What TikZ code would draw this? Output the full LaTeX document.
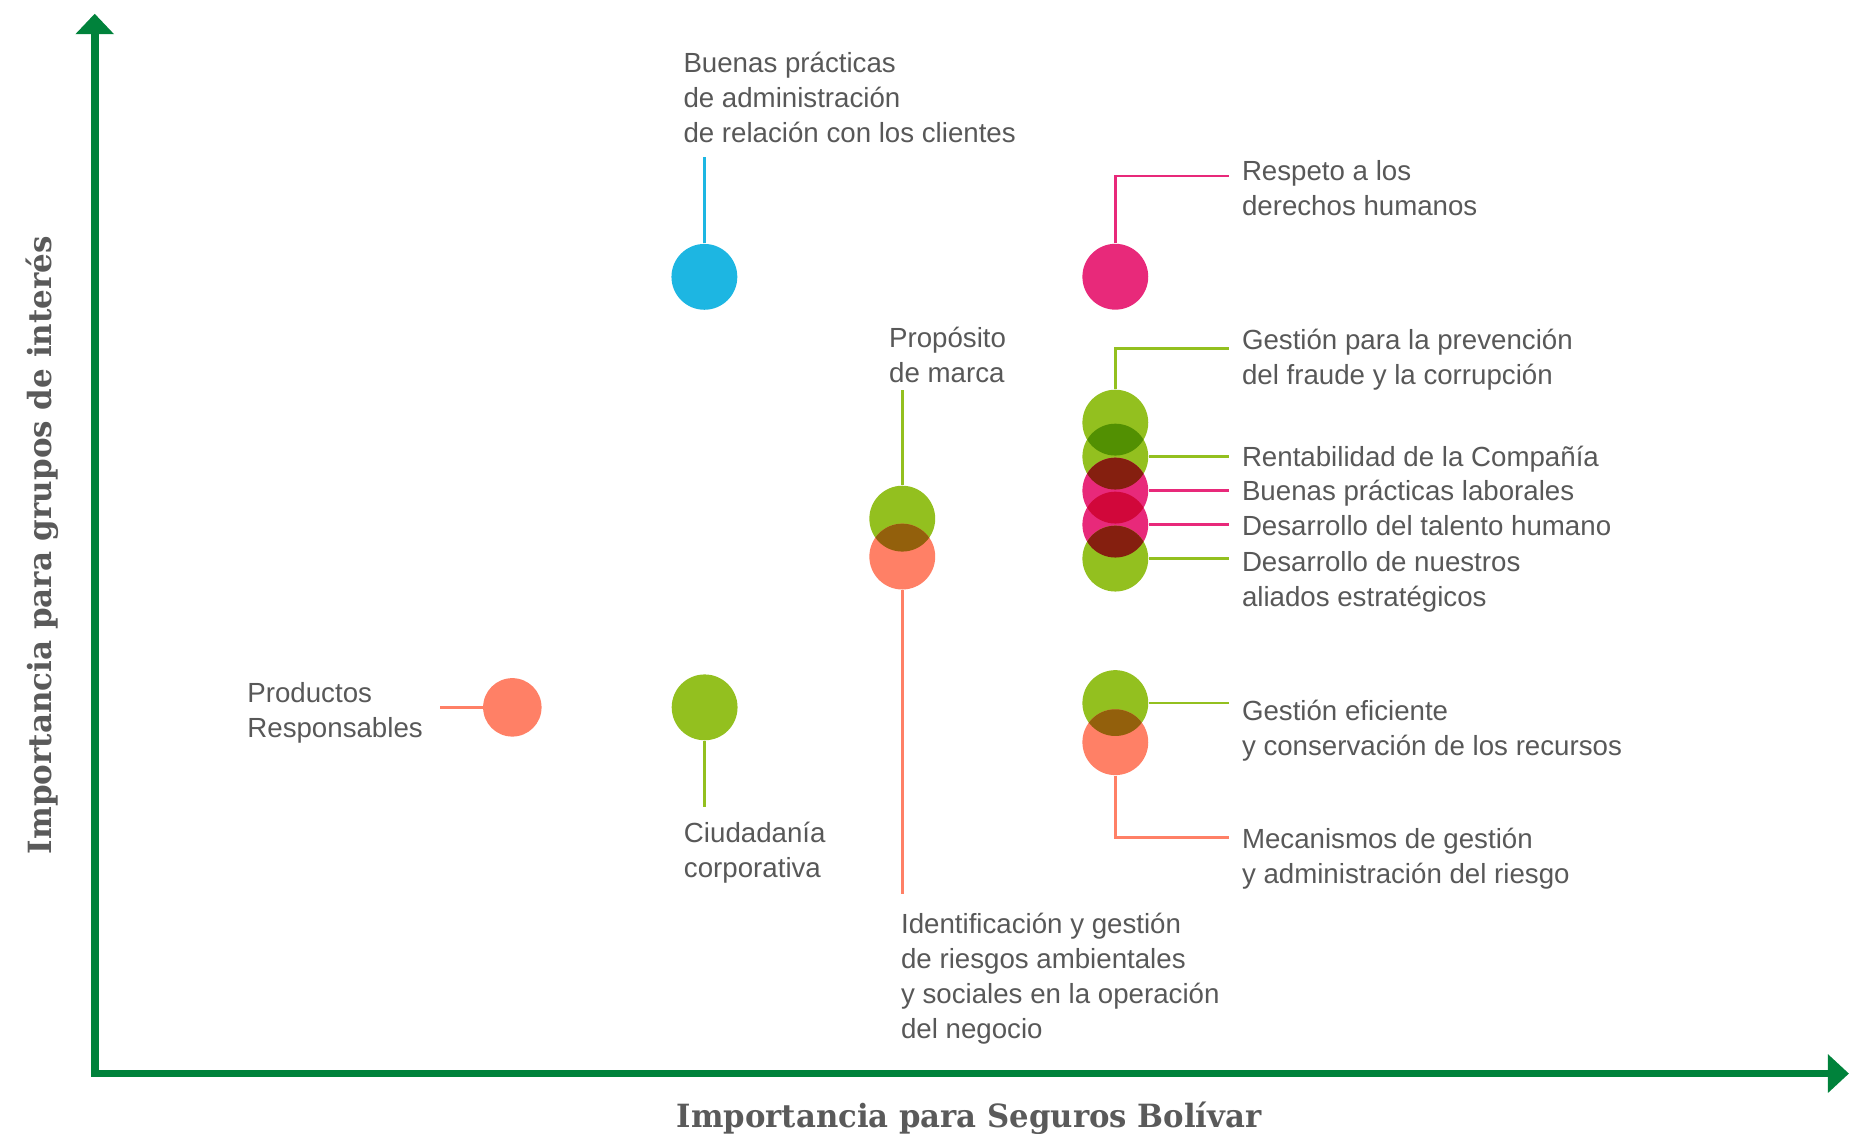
\documentclass[tikz,border=0pt]{standalone}
\usepackage{fontspec}
\usepackage{graphicx}
\setmainfont{Liberation Sans}
\newfontfamily\axisfont{DejaVu Serif}
\usetikzlibrary{arrows.meta}
\definecolor{axisgreen}{RGB}{0,130,59}
\definecolor{lime}{RGB}{147,192,31}
\definecolor{mgt}{RGB}{232,41,122}
\definecolor{cyanb}{RGB}{29,182,226}
\definecolor{salmon}{RGB}{255,128,102}
\definecolor{olgg}{RGB}{82,144,2}
\definecolor{olgm}{RGB}{133,31,15}
\definecolor{olmm}{RGB}{209,7,58}
\definecolor{olgs}{RGB}{147,96,12}
\definecolor{txtgray}{RGB}{88,88,88}
\definecolor{axgray}{RGB}{90,90,90}
\newcommand\txtlines[1]{\begin{tabular}[t]{@{}l@{}}#1\end{tabular}}
\begin{document}
\begin{tikzpicture}[x=0.5pt,y=-0.5pt,
  dot/.style={circle,inner sep=0pt,minimum size=27.6pt,draw=none},
  smalldot/.style={circle,inner sep=0pt,minimum size=24.5pt,draw=none},
  conn/.style={line width=1.05pt},
  lbl/.style={anchor=base west,inner sep=0pt,text=txtgray,font=\fontsize{11.6pt}{14.75pt}\selectfont},
  axislbl/.style={anchor=base,inner sep=0pt,text=axgray,font=\axisfont\bfseries\fontsize{13.4pt}{16pt}\selectfont},
  axisline/.style={line width=3.2pt,draw=axisgreen,line join=miter,
    {Triangle[width=15.7pt,length=8.6pt]}-{Triangle[width=15.7pt,length=8.8pt]}}]
\useasboundingbox (0,0) rectangle (1566,950.6);

% axes
\coordinate (ytip) at (79.4,11.5);
\coordinate (origin) at (79.4,900);
\coordinate (xtip) at (1550,900);
\draw[axisline] (ytip) -- (origin) -- (xtip);
\node[axislbl,rotate=90] (ylab) at (43,457) {\resizebox{259pt}{\height}{Importancia para grupos de interés}};
\node[axislbl] (xlab) at (812.5,945) {\resizebox{245pt}{\height}{Importancia para Seguros Bolívar}};

% circles
\node[dot,fill=cyanb] (cyan) at (590.5,232.1) {};
\node[dot,fill=mgt] (mtop) at (935,232) {};
\node[dot,fill=lime] (gA) at (935,354.3) {};
\node[dot,fill=lime] (gB) at (935,382.8) {};
\node[dot,fill=mgt] (mA) at (935,411.3) {};
\node[dot,fill=mgt] (mB) at (935,439.8) {};
\node[dot,fill=lime] (gC) at (935,468.3) {};
\node[dot,fill=lime] (propG) at (756.4,434.8) {};
\node[dot,fill=salmon] (propS) at (756.4,466.6) {};
\node[smalldot,fill=salmon] (prodS) at (429.5,593) {};
\node[dot,fill=lime] (ciuG) at (590.7,593) {};
\node[dot,fill=lime] (efG) at (935,589.4) {};
\node[dot,fill=salmon] (efS) at (935,622.2) {};

% overlaps
\begin{scope}\clip (gA.center) circle[radius=13.8pt]; \fill[olgg] (gB.center) circle[radius=13.8pt];\end{scope}
\begin{scope}\clip (gB.center) circle[radius=13.8pt]; \fill[olgm] (mA.center) circle[radius=13.8pt];\end{scope}
\begin{scope}\clip (mA.center) circle[radius=13.8pt]; \fill[olmm] (mB.center) circle[radius=13.8pt];\end{scope}
\begin{scope}\clip (mB.center) circle[radius=13.8pt]; \fill[olgm] (gC.center) circle[radius=13.8pt];\end{scope}
\begin{scope}\clip (propG.center) circle[radius=13.8pt]; \fill[olgs] (propS.center) circle[radius=13.8pt];\end{scope}
\begin{scope}\clip (efG.center) circle[radius=13.8pt]; \fill[olgs] (efS.center) circle[radius=13.8pt];\end{scope}

% connector ends
\coordinate (cyanEnd) at (590.5,131.8);
\coordinate (mtopEnd) at (1030,147.5);
\coordinate (gAEnd) at (1030,292.3);
\coordinate (gBEnd) at (1030,382.8);
\coordinate (mAEnd) at (1030,411.3);
\coordinate (mBEnd) at (1030,439.8);
\coordinate (gCEnd) at (1030,468.3);
\coordinate (propGEnd) at (756.4,327);
\coordinate (propSEnd) at (756.4,749.4);
\coordinate (prodEnd) at (368.6,593);
\coordinate (ciuEnd) at (590.7,676.2);
\coordinate (efGEnd) at (1030,589.4);
\coordinate (efSEnd) at (1030,702.2);

% connectors
\draw[conn,cyanb] (cyan.north) -- (cyanEnd);
\draw[conn,mgt] (mtop.north) |- (mtopEnd);
\draw[conn,lime] (gA.north) |- (gAEnd);
\draw[conn,lime] (gB.east) -- (gBEnd);
\draw[conn,mgt] (mA.east) -- (mAEnd);
\draw[conn,mgt] (mB.east) -- (mBEnd);
\draw[conn,lime] (gC.east) -- (gCEnd);
\draw[conn,lime] (propG.north) -- (propGEnd);
\draw[conn,salmon] (propS.south) -- (propSEnd);
\draw[conn,salmon] (prodS.west) -- (prodEnd);
\draw[conn,lime] (ciuG.south) -- (ciuEnd);
\draw[conn,lime] (efG.east) -- (efGEnd);
\draw[conn,salmon] (efS.south) |- (efSEnd);

% labels
\node[lbl] (tBuenas) at (572.6,60.6) {\txtlines{Buenas prácticas\\de administración\\de relación con los clientes}};
\node[lbl] (tRespeto) at (1040.8,151.5) {\txtlines{Respeto a los\\derechos humanos}};
\node[lbl] (tFraude) at (1040.8,292.8) {\txtlines{Gestión para la prevención\\del fraude y la corrupción}};
\node[lbl] (tProp) at (745,291) {\txtlines{Propósito\\de marca}};
\node[lbl] (tRent) at (1040.8,391.2) {Rentabilidad de la Compañía};
\node[lbl] (tLab) at (1040.8,420) {Buenas prácticas laborales};
\node[lbl] (tTal) at (1040.8,449.3) {Desarrollo del talento humano};
\node[lbl] (tAli) at (1040.8,479.2) {\txtlines{Desarrollo de nuestros\\aliados estratégicos}};
\node[lbl] (tProd) at (207,588.7) {\txtlines{Productos\\Responsables}};
\node[lbl] (tEfic) at (1040.8,603.6) {\txtlines{Gestión eficiente\\y conservación de los recursos}};
\node[lbl] (tCiu) at (573,706.4) {\txtlines{Ciudadanía\\corporativa}};
\node[lbl] (tMec) at (1040.8,711.5) {\txtlines{Mecanismos de gestión\\y administración del riesgo}};
\node[lbl] (tIden) at (755,782.4) {\txtlines{Identificación y gestión\\de riesgos ambientales\\y sociales en la operación\\del negocio}};
\end{tikzpicture}
\end{document}
